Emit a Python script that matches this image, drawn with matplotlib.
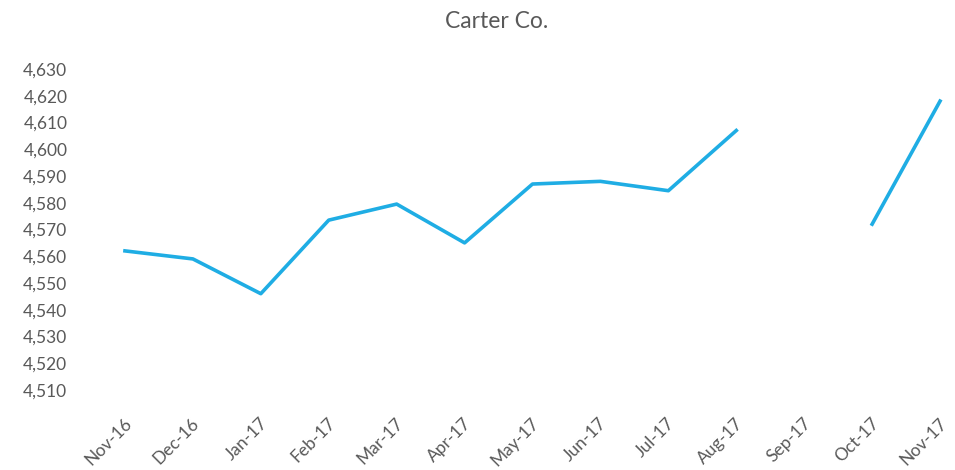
import matplotlib.pyplot as plt
import matplotlib.ticker as mticker
import matplotlib.transforms as mtransforms
import numpy as np

months = ['Nov-16', 'Dec-16', 'Jan-17', 'Feb-17', 'Mar-17', 'Apr-17', 'May-17',
          'Jun-17', 'Jul-17', 'Aug-17', 'Sep-17', 'Oct-17', 'Nov-17']
# Sep-17 has no reading, so the line breaks there
values = [4562, 4559, 4546, 4573.5, 4579.5, 4565, 4587,
          4588, 4584.5, 4607, np.nan, 4572, 4618]

grey = '#595959'
plt.rcParams['font.family'] = ['Lato', 'DejaVu Sans']

fig = plt.figure(figsize=(9.55, 4.7), dpi=100)
ax = fig.add_axes([91 / 955, 1 - 390 / 470, 1 - 91 / 955, 321 / 470])

x = np.arange(len(months))
ax.plot(x, values, color='#1fade4', lw=2.6, solid_joinstyle='round')

ax.set_xlim(-0.5, 12.22)
ax.set_ylim(4510, 4630)
ax.yaxis.set_major_locator(mticker.MultipleLocator(10))
ax.yaxis.set_major_formatter(mticker.StrMethodFormatter('{x:,.0f}'))
ax.set_xticks(x)
ax.set_xticklabels(months, rotation=45, ha='right', va='center',
                   rotation_mode='anchor')

for s in ax.spines.values():
    s.set_visible(False)
ax.tick_params(length=0, labelsize=12.5, colors=grey)
ax.tick_params(axis='y', pad=17)
ax.tick_params(axis='x', pad=22)

# nudge the rotated month labels a little to the right of their tick
shift = mtransforms.ScaledTranslation(4 / 100, 0, fig.dpi_scale_trans)
for lbl in ax.get_xticklabels():
    lbl.set_transform(lbl.get_transform() + shift)

fig.text(497 / 955, 1 - 22 / 470, 'Carter Co.', ha='center', va='center',
         fontsize=16.5, color=grey)

fig.savefig('out.png', dpi=100)
